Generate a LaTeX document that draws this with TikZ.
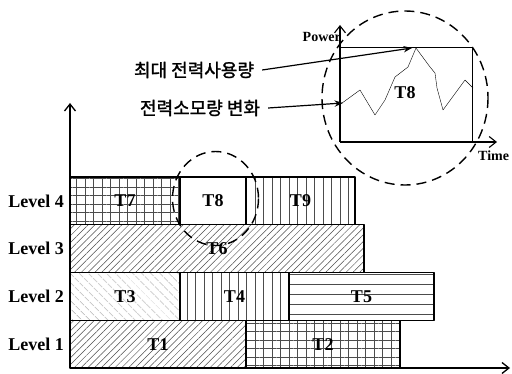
\documentclass[tikz,border=0pt]{standalone}
\usepackage{fontspec}
\setmainfont{Liberation Serif}
\newfontfamily\kofont{Noto Sans CJK KR}[AutoFakeBold=1.5]
\usetikzlibrary{arrows.meta,patterns.meta,positioning}
\begin{document}
\begin{tikzpicture}[x=1pt,y=-1pt,line join=round,>=Stealth,
  font=\bfseries\fontsize{18}{18}\selectfont,
  task/.style={draw,line width=1.3pt,inner sep=0pt,outer sep=0pt,anchor=south west,
    minimum height=47.75pt,pattern color=black!70},
  slash/.style={pattern={Lines[angle=45,distance=4.8pt,line width=0.5pt]}},
  backslash/.style={pattern={Lines[angle=-45,distance=6.4pt,line width=0.5pt]}},
  vlines/.style={pattern={Lines[angle=90,distance=8.5pt,line width=0.5pt]}},
  hlines/.style={pattern={Lines[angle=0,distance=10pt,line width=0.5pt]}},
  grid/.style={pattern={Hatch[angle=0,distance=8.5pt,line width=0.5pt]}},
  lvl/.style={inner sep=0pt},
  axis/.style={line width=1.3pt,-{Straight Barb[length=7pt,width=11pt]}},
  ring/.style={line width=1.4pt,dash pattern=on 10pt off 6pt},
  kor/.style={font=\kofont\bfseries\fontsize{18}{18}\selectfont,inner sep=0pt}]
\useasboundingbox (0,0) rectangle (512,374);
% tasks, row by row
\node[task,slash,minimum width=176pt] (t1) at (70,368) {T1};
\node[task,grid,minimum width=154pt,right=0pt of t1] (t2) {T2};
\node[task,backslash,minimum width=110pt] (t3) at (70,320.25) {T3};
\node[task,vlines,minimum width=109pt,right=0pt of t3] (t4) {T4};
\node[task,hlines,minimum width=145pt,right=0pt of t4] (t5) {T5};
\node[task,slash,minimum width=294pt] (t6) at (70,272.5) {T6};
\node[task,grid,minimum width=110pt] (t7) at (70,224.75) {T7};
\node[task,fill=white,minimum width=66pt,right=0pt of t7] (t8) {T8};
\node[task,vlines,minimum width=109pt,right=0pt of t8] (t9) {T9};
\foreach \n/\t in {1/t1,2/t3,3/t6,4/t7}
  \node[lvl,left=6pt of \t] (lv\n) {Level \n};
% axes
\coordinate (o) at (70,368);
\draw[axis] (o) -- (70,103);
\draw[axis] (o) -- (510,368);
\draw[ring] (215.5,198.5) ellipse [x radius=43,y radius=47];
% zoomed view of T8
\coordinate (p) at (340,142);
\draw[axis,line width=1.1pt] (p) -- (340,25);
\draw[axis,line width=1.1pt] (p) -- (497,142);
\draw[thin] (340,47) -| (472,142);
\node[anchor=east,inner sep=0pt,font=\bfseries\fontsize{14}{14}\selectfont] (pw) at (341,37) {Power};
\node[anchor=west,inner sep=0pt,font=\bfseries\fontsize{14}{14}\selectfont] (tm) at (478,156) {Time};
\draw[thin] plot coordinates {(341.7,103.3) (360,90) (375,115) (385,100) (395,77) (408,67)
  (416,48) (430,67) (435,73) (437,88) (443,110) (465,80) (473,88)};
\node (t8z) at (405,93) {T8};
\draw[ring] (405,98) ellipse [x radius=83,y radius=87];
\node[kor] (k1) at (194,70) {최대 전력사용량};
\node[kor] (k2) at (200,108) {전력소모량 변화};
\coordinate (peak) at (412,48);
\coordinate (start) at (343,103);
\draw[->,line width=1.2pt] (k1.east) ++(8,0) -- (peak);
\draw[->,line width=1.2pt] (k2.east) ++(8,0) -- (start);
\end{tikzpicture}
\end{document}
